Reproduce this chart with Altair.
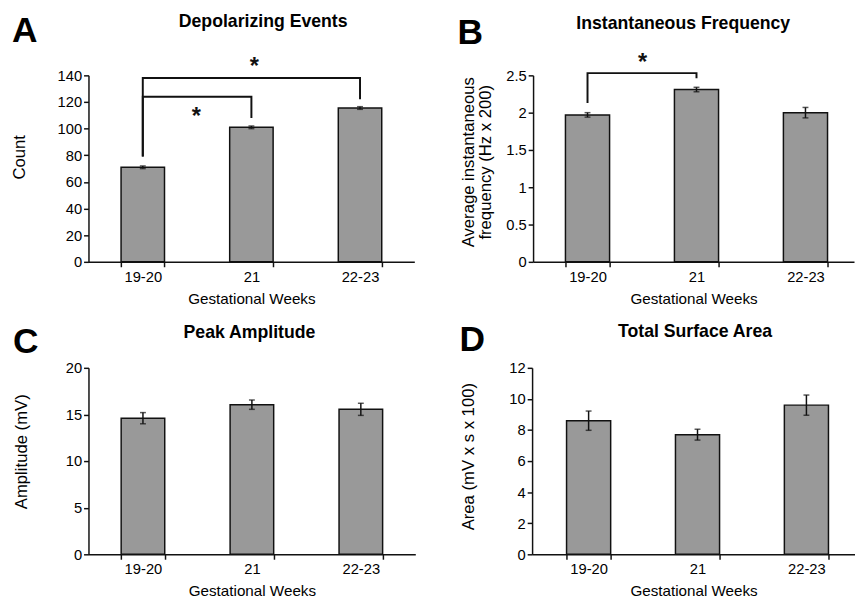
import altair as alt
import pandas as pd

weeks = ["19-20", "21", "22-23"]

events_mean = [71, 101, 115.5]
events_err = [1.0, 1.0, 1.0]
freq_mean = [1.97, 2.31, 2.00]
freq_err = [0.03, 0.03, 0.07]
amp_mean = [14.6, 16.05, 15.55]
amp_err = [0.6, 0.5, 0.65]
area_mean = [8.6, 7.7, 9.6]
area_err = [0.62, 0.35, 0.65]

# significance brackets: week corner points and their heights
bracketA1_weeks = ["19-20", "19-20", "21", "21"]
bracketA1_vals = [79, 124, 124, 108]
bracketA2_weeks = ["19-20", "19-20", "22-23", "22-23"]
bracketA2_vals = [79, 138, 138, 122]
bracketB_weeks = ["19-20", "19-20", "21", "21"]
bracketB_vals = [2.13, 2.53, 2.53, 2.46]

# asterisks: anchor week, height
starsA_weeks = ["21", "21"]
starsA_vals = [150, 112.7]
starsA_shift = [3, -56]
starsB_weeks = ["21"]
starsB_vals = [2.73]
starsB_shift = [-55]

FONT = "Liberation Sans"
BAR_FILL = "#999999"
INK = "#111111"


def panel(letter, title, ytitle, means, errs, ymax, ystep, width, letter_xy,
          title_xy, ytitle_xy, band=(0.6, 0.3, 0.5), brackets=None, stars=None):
    df = pd.DataFrame({"week": weeks, "mean": means, "err": errs})
    df["lo"] = df["mean"] - df["err"]
    df["hi"] = df["mean"] + df["err"]
    nticks = int(round(ymax / ystep))
    yvals = [round(i * ystep, 3) for i in range(nticks + 1)]

    xscale = alt.Scale(paddingInner=band[0], paddingOuter=band[1], align=band[2])
    xaxis = alt.Axis(title="Gestational Weeks", labelAngle=0, tickBand="extent",
                     labelPadding=3, titlePadding=7, titleFontSize=15.5)
    yscale = alt.Scale(domain=[0, ymax], nice=False, zero=True)
    yaxis = alt.Axis(title=ytitle, values=yvals, labelExpr="'' + datum.value",
                     labelOverlap=False, tickCount=len(yvals),
                     titleFontSize=17, titleLineHeight=18,
                     titleX=ytitle_xy[0], titleY=ytitle_xy[1],
                     titleBaseline="alphabetic", titleAngle=270)

    def X():
        return alt.X("week:N", sort=weeks, scale=xscale, axis=xaxis)

    def Y(field):
        return alt.Y(field, scale=yscale, axis=yaxis)

    base = alt.Chart(df)
    bars = base.mark_bar(fill=BAR_FILL, stroke=INK, strokeWidth=1.5).encode(
        x=X(), y=Y("mean:Q"))
    rule = base.mark_rule(color=INK, strokeWidth=1.5).encode(
        x=X(), y=Y("lo:Q"), y2="hi:Q")
    cap_lo = base.mark_tick(color=INK, size=6, thickness=1.5).encode(x=X(), y=Y("lo:Q"))
    cap_hi = base.mark_tick(color=INK, size=6, thickness=1.5).encode(x=X(), y=Y("hi:Q"))
    layers = [bars, rule, cap_lo, cap_hi]

    if brackets:
        rows = []
        for bid, (bw, bv) in enumerate(brackets):
            for i, (w, v) in enumerate(zip(bw, bv)):
                rows.append({"bid": bid, "i": i, "week": w, "val": v})
        bdf = pd.DataFrame(rows)
        layers.append(
            alt.Chart(bdf).mark_line(color=INK, strokeWidth=2, interpolate="linear").encode(
                x=X(), y=Y("val:Q"), detail="bid:N", order="i:Q")
        )
    if stars:
        sw, sv, ss = stars
        for w, v, s in zip(sw, sv, ss):
            sdf = pd.DataFrame({"week": [w], "val": [v], "t": ["*"]})
            layers.append(
                alt.Chart(sdf).mark_text(font=FONT, fontSize=24, fontWeight="bold",
                                         color=INK, dx=s, dy=12, baseline="alphabetic").encode(
                    x=X(), y=Y("val:Q"), text="t:N")
            )
    ldf = pd.DataFrame({"t": [letter]})
    layers.append(
        alt.Chart(ldf).mark_text(font=FONT, fontSize=36, fontWeight="bold", color="black",
                                 align="left", baseline="alphabetic").encode(
            x=alt.value(letter_xy[0]), y=alt.value(letter_xy[1]), text="t:N")
    )
    tdf = pd.DataFrame({"t": [title]})
    layers.append(
        alt.Chart(tdf).mark_text(font=FONT, fontSize=18, fontWeight="bold", color="black",
                                 align="center", baseline="alphabetic").encode(
            x=alt.value(title_xy[0]), y=alt.value(title_xy[1]), text="t:N")
    )
    return alt.layer(*layers).properties(width=width, height=190)


A = panel("A", "Depolarizing Events", "Count", events_mean, events_err, 140, 20, 332,
          (-78, -34), (178, -49), (-65, 83),
          brackets=[(bracketA2_weeks, bracketA2_vals), (bracketA1_weeks, bracketA1_vals)],
          stars=(starsA_weeks, starsA_vals, starsA_shift))
B = panel("B", "Instantaneous Frequency", ["Average instantaneous", "frequency (Hz x 200)"],
          freq_mean, freq_err, 2.5, 0.5, 327, (-77, -32), (153, -47), (-61, 88),
          band=(0.595, 0.27, 0.55),
          brackets=[(bracketB_weeks, bracketB_vals)],
          stars=(starsB_weeks, starsB_vals, starsB_shift))
C = panel("C", "Peak Amplitude", "Amplitude (mV)", amp_mean, amp_err, 20, 5, 333,
          (-77, -15), (164, -30), (-63, 85))
D = panel("D", "Total Surface Area", "Area (mV x s x 100)", area_mean, area_err, 12, 2, 329,
          (-74, -17), (166, -31), (-60, 90), band=(0.595, 0.28, 0.565))

chart = alt.vconcat(
    alt.hconcat(A, B, spacing=44),
    alt.hconcat(C, D, spacing=45),
    spacing=16,
).properties(padding={"left": 3, "top": 0, "right": 0, "bottom": 0}).configure(
    font=FONT
).configure_view(stroke=None).configure_axis(
    grid=False, domainColor=INK, tickColor=INK, labelColor="black", titleColor="black",
    domainWidth=1.5, tickWidth=1.5, tickSize=5, labelFont=FONT, titleFont=FONT,
    labelFontSize=15, titleFontWeight="normal", labelOverlap=False,
)

chart.save("out.html", embed_options={"renderer": "svg", "actions": False})
